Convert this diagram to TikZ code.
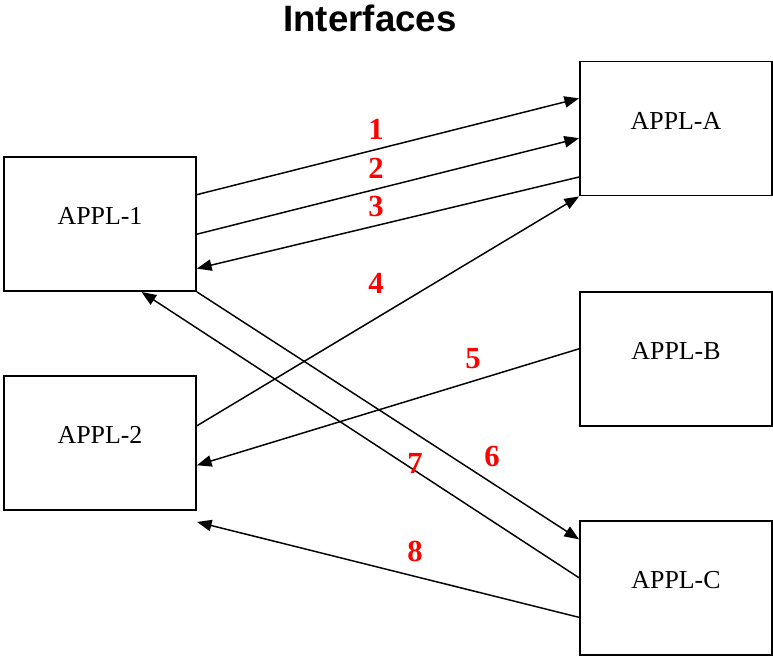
\documentclass[tikz,border=0pt]{standalone}
\usepackage{fontspec}
\setmainfont{Liberation Serif}
\newfontfamily\titlefont{Liberation Sans}
\usetikzlibrary{arrows.meta,calc}
\begin{document}
\begin{tikzpicture}[x=0.75pt,y=-0.75pt,
  appbox/.style={draw,line width=1.4pt,minimum width=144pt,minimum height=100.5pt,
    inner sep=0pt,text height=13pt,text depth=12pt,
    font=\fontsize{19.4pt}{22pt}\selectfont},
  link/.style={line width=1.1pt,-{Triangle[length=11pt,width=8.5pt]}},
  num/.style={text=red,font=\fontsize{23pt}{26pt}\selectfont\bfseries,inner sep=0pt}]
\useasboundingbox (0,0) rectangle (773,656);

\node[font=\titlefont\fontsize{27.5pt}{30pt}\selectfont\bfseries] (title) at (370,18) {Interfaces};

\node[appbox] (a1) at (100,224) {APPL-1};
\node[appbox] (a2) at (100,443) {APPL-2};
\node[appbox] (aa) at (676,128.5) {APPL-A};
\node[appbox] (ab) at (676,359) {APPL-B};
\node[appbox] (ac) at (676,588) {APPL-C};

% free end of link 8, just below APPL-2
\coordinate (e8) at ($(a2.south east)+(0,11)$);

\draw[link] ($(a1.north east)!0.284!(a1.south east)$) -- ($(aa.north west)!0.278!(aa.south west)$);
\draw[link] ($(a1.north east)!0.575!(a1.south east)$) -- ($(aa.north west)!0.571!(aa.south west)$);
\draw[link] ($(aa.north west)!0.857!(aa.south west)$) -- ($(a1.north east)!0.828!(a1.south east)$);
\draw[link] ($(a2.north east)!0.373!(a2.south east)$) -- (aa.south west);
\draw[link] ($(ab.north west)!0.425!(ab.south west)$) -- ($(a2.north east)!0.664!(a2.south east)$);
\draw[link] (a1.south east) -- ($(ac.north west)!0.142!(ac.south west)$);
\draw[link] ($(ac.north west)!0.425!(ac.south west)$) -- ($(a1.south west)!0.714!(a1.south east)$);
\draw[link] ($(ac.north west)!0.716!(ac.south west)$) -- (e8);

\node[num] (n1) at (376,129) {1};
\node[num] (n2) at (376,168) {2};
\node[num] (n3) at (376,206) {3};
\node[num] (n4) at (376,283) {4};
\node[num] (n5) at (473,359) {5};
\node[num] (n6) at (492,456) {6};
\node[num] (n7) at (415,463) {7};
\node[num] (n8) at (415,551) {8};
\end{tikzpicture}
\end{document}
